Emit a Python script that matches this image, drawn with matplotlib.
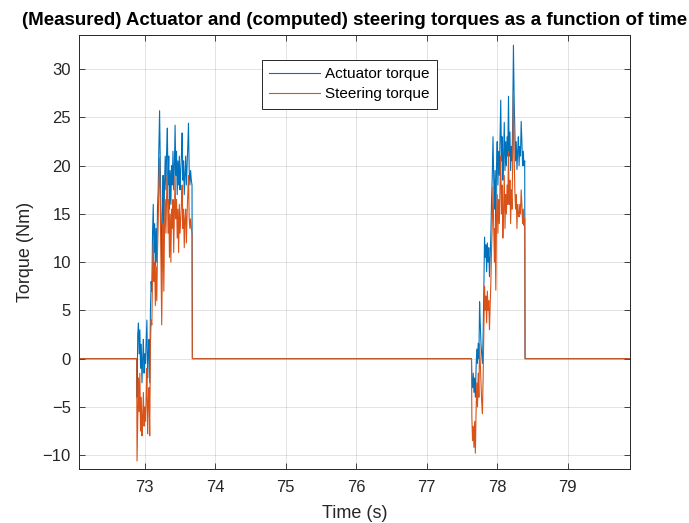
import numpy as np
import matplotlib
matplotlib.use('Agg')
import matplotlib.pyplot as plt

plt.rcParams['font.family'] = ['Liberation Sans', 'DejaVu Sans']

# time window shown
T_START, T_END = 72.07, 79.89
STEP = 0.01

# first burst, samples from 72.89 s
t1_start = 72.89
actuator1 = [
    -4.0, 2.5, 3.7, 0.5, 3.0, -1.0, 1.5, -2.5, 0.0, 2.0,
    -1.5, 0.5, -0.5, 1.8, 4.0, -2.0, 0.5, 2.0, -2.5, 5.0,
    8.0, 7.0, 13.0, 16.0, 11.0, 14.0, 9.5, 13.5, 10.0, 15.5,
    17.5, 22.0, 25.7, 20.0, 14.0, 9.0, 15.0, 19.0, 12.0, 18.0,
    21.0, 17.5, 21.5, 23.9, 18.0, 21.0, 15.5, 19.5, 16.0, 20.0,
    18.0, 21.5, 17.5, 20.0, 24.2, 19.0, 21.5, 17.0, 20.5, 18.0,
    21.0, 17.5, 19.5, 21.0, 23.4, 18.5, 20.5, 17.0, 19.0, 21.0,
    18.0, 20.0, 22.0, 24.4, 19.5, 18.0, 19.5, 18.5, 18.0]
steering1 = [
    -10.6, -6.0, -2.0, -5.5, -1.5, -7.5, -4.0, -8.0, -6.0, -3.5,
    -7.0, -5.0, -6.5, -4.0, -1.0, -7.8, -4.5, -3.0, -8.0, 1.5,
    4.0, 3.5, 9.0, 12.0, 8.0, 10.0, 5.5, 9.5, 6.0, 11.0,
    14.0, 18.0, 20.8, 16.0, 10.0, 3.5, 10.0, 14.0, 7.0, 13.5,
    16.5, 13.0, 17.0, 19.0, 13.0, 16.5, 10.5, 15.0, 10.0, 15.5,
    13.5, 16.5, 11.0, 15.0, 19.0, 14.5, 16.5, 12.5, 15.5, 11.0,
    16.0, 13.0, 14.5, 16.0, 18.0, 13.5, 15.5, 11.5, 14.5, 15.5,
    12.0, 15.0, 17.0, 19.0, 14.5, 13.5, 14.5, 13.5, 13.0]

# second burst, samples from 77.64 s
t2_start = 77.64
actuator2 = [
    -2.0, -3.0, -1.5, -3.5, -2.0, -4.0, -1.0, 1.0, -0.5, 1.6,
    0.0, 5.9, 3.5, 1.5, 0.5, -0.5, 2.5, 7.0, 12.6, 10.5,
    11.8, 9.0, 12.0, 10.0, 11.5, 8.5, 10.5, 13.0, 16.5, 19.0,
    23.0, 18.9, 15.5, 19.5, 13.0, 20.0, 22.5, 18.0, 21.5, 19.0,
    23.0, 26.8, 20.5, 23.0, 18.5, 21.0, 24.5, 19.5, 22.5, 20.0,
    23.0, 21.0, 27.2, 21.0, 23.5, 19.5, 22.0, 20.5, 25.0, 32.5,
    27.0, 23.7, 20.5, 22.5, 19.6, 21.5, 23.0, 20.0, 22.0, 21.0,
    24.6, 22.5, 20.0, 21.5, 20.0, 20.5]
steering2 = [
    -6.0, -8.5, -7.0, -9.2, -6.5, -9.8, -5.5, -2.5, -5.0, -1.5,
    -4.0, 1.5, -0.5, -2.5, -4.5, -5.7, -2.0, 3.0, 7.5, 5.0,
    6.5, 3.7, 7.0, 5.0, 6.0, 3.0, 5.5, 8.0, 11.5, 14.0,
    17.8, 14.0, 10.0, 13.5, 7.1, 14.5, 17.0, 13.0, 16.5, 14.0,
    18.0, 21.0, 15.0, 18.0, 12.5, 15.5, 19.0, 13.5, 17.0, 15.0,
    18.0, 16.0, 21.5, 16.0, 18.5, 14.0, 17.5, 15.5, 21.0, 27.7,
    21.0, 17.5, 15.5, 17.0, 13.5, 16.0, 15.0, 14.7, 16.0, 15.0,
    17.5, 16.0, 14.0, 15.5, 13.8, 14.5]

xticks = [73, 74, 75, 76, 77, 78, 79]
yticks = [-10, -5, 0, 5, 10, 15, 20, 25, 30]


def build(v1, v2):
    t1 = t1_start + STEP * np.arange(len(v1))
    t2 = t2_start + STEP * np.arange(len(v2))
    t = np.concatenate([[T_START, t1_start - 0.005], t1,
                        [t1[-1] + 0.005, t2_start - 0.005], t2,
                        [t2[-1] + 0.005, T_END]])
    y = np.concatenate([[0, 0], v1, [0, 0], v2, [0, 0]])
    return t, y


t_a, y_a = build(actuator1, actuator2)
t_s, y_s = build(steering1, steering2)

dark = '#262626'
fig = plt.figure(figsize=(6.89, 5.23), dpi=100)
ax = fig.add_axes([0.115, 0.103, 0.8, 0.831])

ax.plot(t_a, y_a, color='#0072BD', lw=0.8, label='Actuator torque')
ax.plot(t_s, y_s, color='#D95319', lw=0.8, label='Steering torque')

ax.set_xlim(T_START, T_END)
ax.set_ylim(-11.45, 33.6)
ax.set_xticks(xticks)
ax.set_yticks(yticks)
ax.set_yticklabels([str(v).replace('-', '\u2212') for v in yticks])
ax.grid(True, color=dark, alpha=0.15, lw=0.6)
ax.tick_params(direction='in', length=4, width=0.6, top=True, right=True,
               labelsize=12, colors=dark)
ax.tick_params(axis='x', pad=8)
ax.tick_params(axis='y', pad=6)
for s in ax.spines.values():
    s.set_color(dark)
    s.set_linewidth(0.7)

ax.set_xlabel('Time (s)', fontsize=13, color=dark, labelpad=7)
ax.set_ylabel('Torque (Nm)', fontsize=13, color=dark, labelpad=6)
ax.set_title('(Measured) Actuator and (computed) steering torques as a function of time',
             fontsize=13.5, fontweight='bold', color='black', pad=7)

leg = ax.legend(loc='upper left', bbox_to_anchor=(0.331, 0.942), borderaxespad=0,
                fontsize=11, fancybox=False, framealpha=1, edgecolor=dark,
                handlelength=3.3, handletextpad=0.35, borderpad=0.5,
                labelspacing=0.4)
leg.get_frame().set_linewidth(0.7)

fig.savefig('out.png', dpi=100)
